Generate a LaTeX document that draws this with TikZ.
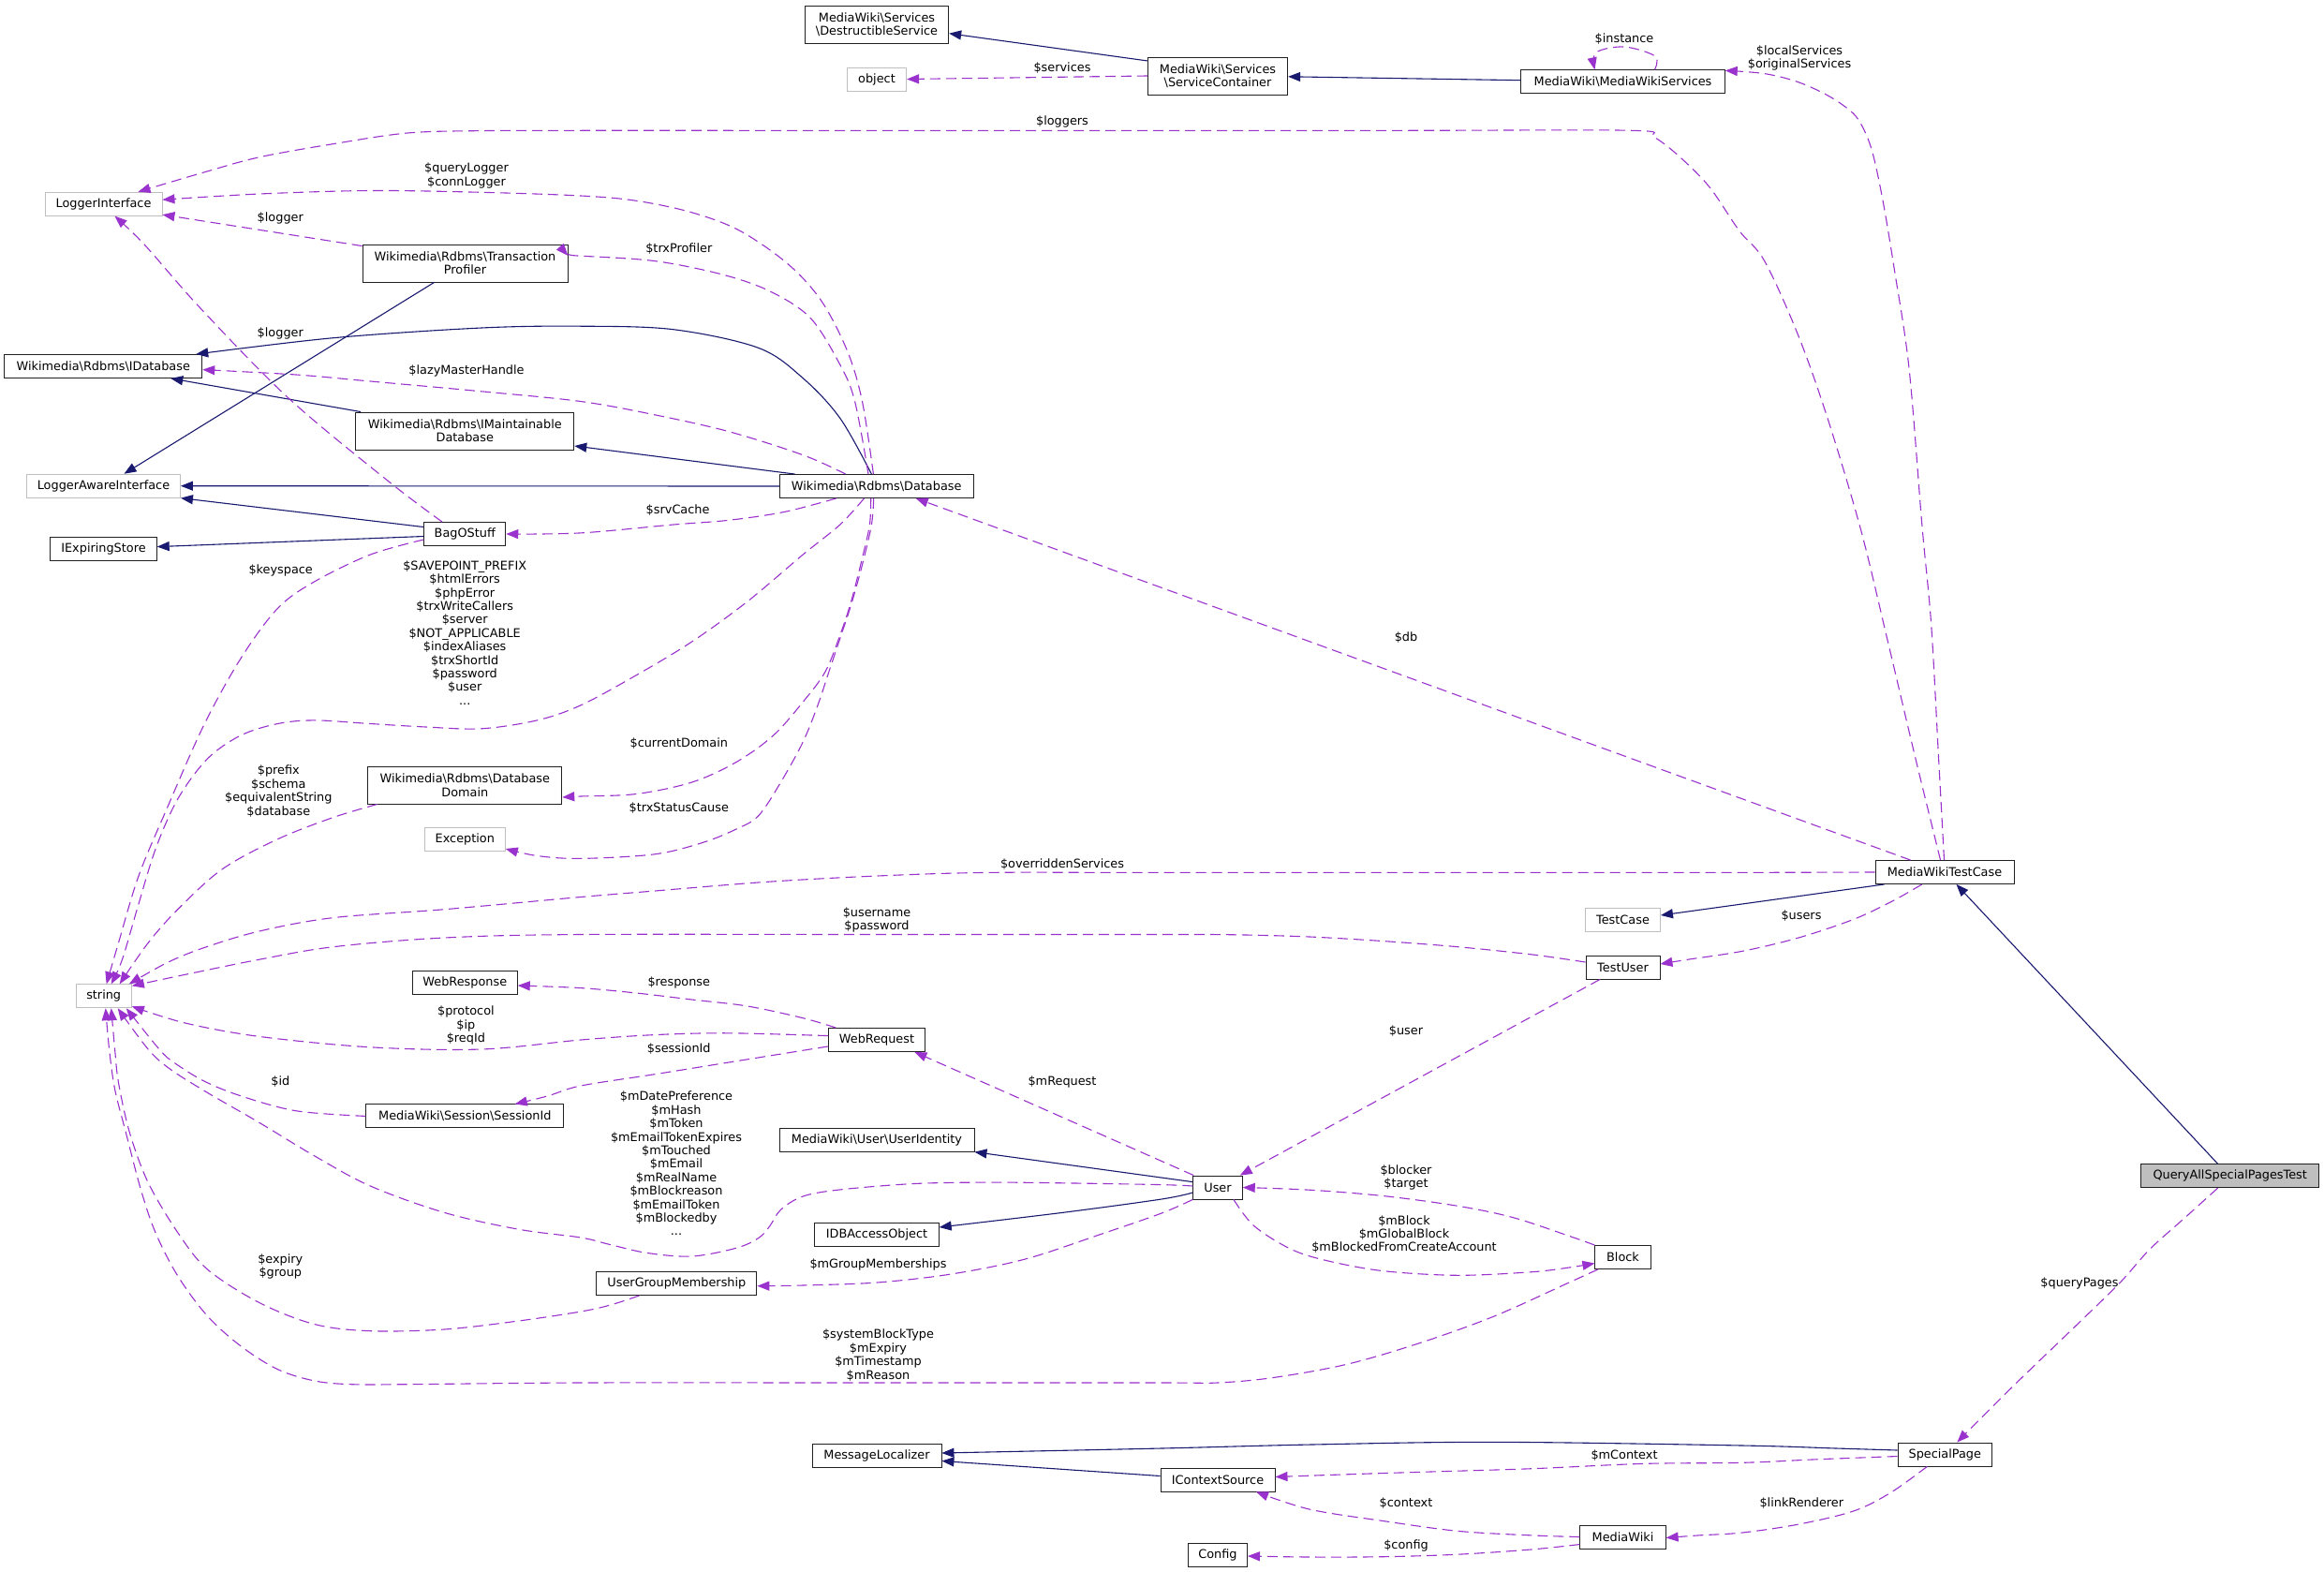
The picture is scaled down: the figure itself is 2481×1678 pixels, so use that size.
\documentclass[tikz,border=0pt]{standalone}
\usepackage{fontspec}
\setmainfont{DejaVu Sans}
\usetikzlibrary{arrows.meta}
\definecolor{usecol}{HTML}{9A32CD}
\definecolor{inhcol}{HTML}{191970}
\definecolor{extgrey}{HTML}{BFBFBF}
\definecolor{boxcol}{HTML}{202020}
\newcommand\dxfont{\fontsize{12.85}{14.4}\selectfont}
\newcommand\bsl{\textbackslash}
\begin{document}
\begin{tikzpicture}[x=1pt,y=-1pt,
  cls/.style={draw=boxcol, line width=0.9pt, fill=white, inner sep=0pt, minimum height=25pt, align=center, font=\dxfont},
  ext/.style={cls, draw=extgrey},
  lbl/.style={inner sep=0pt, align=center, font=\dxfont},
  inh/.style={draw=inhcol, line width=1.1pt, -{Triangle[length=13pt, width=10pt, fill=inhcol]}},
  use/.style={draw=usecol, line width=1.1pt, dash pattern=on 11pt off 6pt, -{Triangle[length=13pt, width=10pt, fill=usecol]}},
  sm/.style={smooth, tension=0.55}]
\useasboundingbox[fill=white] (0,0) rectangle (2481,1678);

% ---------- nodes ----------
\node[ext, minimum width=125pt] (LI) at (110.5,217.7) {LoggerInterface};
\node[cls, minimum width=219pt, minimum height=40pt] (TP) at (496.5,281) {Wikimedia\bsl Rdbms\bsl Transaction\\Profiler};
\node[cls, minimum width=211pt] (IDB) at (110.3,391) {Wikimedia\bsl Rdbms\bsl IDatabase};
\node[cls, minimum width=233pt, minimum height=40pt] (IMD) at (496.3,460) {Wikimedia\bsl Rdbms\bsl IMaintainable\\Database};
\node[ext, minimum width=164pt] (LAI) at (110.5,518.7) {LoggerAwareInterface};
\node[cls, minimum width=87pt] (BOS) at (496.3,570) {BagOStuff};
\node[cls, minimum width=113.5pt] (IES) at (110.5,585.8) {IExpiringStore};
\node[cls, minimum width=207pt, minimum height=40pt] (DD) at (496.3,838) {Wikimedia\bsl Rdbms\bsl Database\\Domain};
\node[ext, minimum width=86pt] (EXC) at (496.3,896) {Exception};
\node[cls, minimum width=112pt] (WRS) at (496.3,1048.5) {WebResponse};
\node[ext, minimum width=59.4pt] (STR) at (110.7,1063.3) {string};
\node[cls, minimum width=153.4pt, minimum height=40pt] (DS) at (936,26) {MediaWiki\bsl Services\\\bsl DestructibleService};
\node[ext, minimum width=63.3pt] (OBJ) at (936,84.5) {object};
\node[cls, minimum width=207pt] (DB) at (935.7,519) {Wikimedia\bsl Rdbms\bsl Database};
\node[cls, minimum width=149.4pt, minimum height=40pt] (SC) at (1300,81) {MediaWiki\bsl Services\\\bsl ServiceContainer};
\node[cls, minimum width=217.5pt] (MWS) at (1732.5,87.3) {MediaWiki\bsl MediaWikiServices};
\node[cls, minimum width=148pt] (MWTC) at (2076,931) {MediaWikiTestCase};
\node[ext, minimum width=80pt] (TC) at (1732.5,981.7) {TestCase};
\node[cls, minimum width=79pt] (TU) at (1732.5,1032.5) {TestUser};
\node[cls, minimum width=103pt] (WRQ) at (936,1110) {WebRequest};
\node[cls, minimum width=211pt] (SID) at (496.3,1191.4) {MediaWiki\bsl Session\bsl SessionId};
\node[cls, minimum width=208pt] (UID) at (936,1216.7) {MediaWiki\bsl User\bsl UserIdentity};
\node[cls, minimum width=132.5pt] (IDBA) at (936,1318) {IDBAccessObject};
\node[cls, minimum width=171pt] (UGM) at (722.4,1370) {UserGroupMembership};
\node[cls, minimum width=138pt] (ML) at (936,1554) {MessageLocalizer};
\node[cls, minimum width=52.6pt] (USR) at (1300,1267.5) {User};
\node[cls, minimum width=59.3pt] (BLK) at (1732.5,1342) {Block};
\node[cls, minimum width=122pt] (ICS) at (1300,1579.5) {IContextSource};
\node[cls, minimum width=91.3pt] (MW) at (1732.5,1640.5) {MediaWiki};
\node[cls, minimum width=63pt] (CFG) at (1300,1659.5) {Config};
\node[cls, fill=extgrey, minimum width=190pt] (QAS) at (2380.7,1255.2) {QueryAllSpecialPagesTest};
\node[cls, minimum width=100.5pt] (SP) at (2076.3,1552.5) {SpecialPage};

% ---------- inheritance (solid) ----------
\draw[inh] ([yshift=-4.4pt]SC.north west) -- ([yshift=-9.7pt]DS.east);
\draw[inh] ([yshift=1.6pt]MWS.west) -- ([yshift=-0.8pt]SC.east);
\draw[inh] ([xshift=-33pt]TP.south) -- ([xshift=22pt]LAI.north);
\draw[inh] plot[sm] coordinates {([xshift=-5.3pt]DB.north) (896.8,446.4) (857,403.5) (809.8,371.4) (718.9,351.7) (620,348.2) (514,350) (355.9,360.7) ([xshift=-7pt]IDB.north east)};
\draw[inh] ([xshift=5.7pt]IMD.north west) -- ([xshift=-34pt]IDB.south east);
\draw[inh] ([xshift=16.8pt]DB.north west) -- ([yshift=-16pt]IMD.east);
\draw[inh] (DB.west) -- (LAI.east);
\draw[inh] ([yshift=-5.5pt]BOS.north west) -- (LAI.south east);
\draw[inh] ([yshift=-2.5pt]BOS.west) -- ([yshift=2.2pt]IES.east);
\draw[inh] ([xshift=10pt]MWTC.south west) -- ([yshift=4.7pt]TC.east);
\draw[inh] ([xshift=82.3pt]QAS.north west) -- ([xshift=12.5pt]MWTC.south);
\draw[inh] ([yshift=5.9pt]USR.west) -- (UID.south east);
\draw[inh] plot[sm] coordinates {([yshift=-5.5pt]USR.west) (1240,1280) (1134,1294.4) ([yshift=8pt]IDBA.east)};
\draw[inh] plot[sm] coordinates {([yshift=4.5pt]SP.west) (1960,1546) (1860,1543) (1596,1539.3) (1400,1542) (1240,1546) ([yshift=3pt]ML.east)};
\draw[inh] ([yshift=4pt]ICS.west) -- ([yshift=-5.5pt]ML.east);

% ---------- usage (dashed) ----------
\draw[use] (SC.west) -- (OBJ.east);
\node[lbl] (l1) at (1134,73) {\$services};

\draw[use] plot[sm] coordinates {([xshift=34pt]MWS.north) (1767,60) (1734,50) (1704,56) ([xshift=-30pt]MWS.north)};
\node[lbl] (l2) at (1734,41.8) {\$instance};

\draw[use] plot[sm] coordinates {([xshift=-0.5pt]MWTC.north) (2069.6,810) (2061.7,667) (2051.8,560) (2038,393) (2022,285.7) (2010,214) (1998.4,160.7) (1986.5,132) (1974.7,117.8) (1951,101.8) (1919.3,87.5) (1883.7,78.6) ([yshift=-1pt]MWS.north east)};
\node[lbl] (l3) at (1921,62) {\$localServices\\\$originalServices};

\draw[use] plot[sm] coordinates {([xshift=-4.5pt]MWTC.north) (2045,810) (2015.4,685) (1986.5,565.4) (1951,446.4) (1919.3,357) (1883.7,278.6) (1856.8,246.4) (1825.2,200) (1793.6,167.8) (1765.9,146.4) (1742,139.3) (1500,139.3) (1134,139.3) (800,139.3) (620,139.3) (514,139.6) (435,142) (355.9,153.6) (276.8,167.8) (217.5,184) ([xshift=37pt]LI.north)};
\node[lbl] (l4) at (1134,130.3) {\$loggers};

\draw[use] plot[sm] coordinates {([xshift=-3.3pt]DB.north) (920.5,428.5) (904.7,375) (877,321.4) (841.4,282) (790,246.4) (738.6,226.8) (679.3,214.3) (620,209) (514,205.3) (395.4,203.5) (276.8,207) ([yshift=4.5pt]LI.east)};
\node[lbl] (l5) at (498,187.5) {\$queryLogger\\\$connLogger};

\draw[use] ([yshift=-2pt]TP.north west) -- ([yshift=1.5pt]LI.south east);
\node[lbl] (l6) at (299.3,232.8) {\$logger};

\draw[use] plot[sm] coordinates {([xshift=19.7pt]BOS.north west) (415,514) (308,425) (213.5,328.5) (155,262) ([xshift=12pt]LI.south)};
\node[lbl] (l7) at (299.3,356.4) {\$logger};

\draw[use] plot[sm] coordinates {([xshift=-8.7pt]DB.north) (912.6,428.5) (896.8,389.3) (865,339.3) (821.6,310.7) (770.3,292.8) (699,278.6) (620,273.2) ([yshift=8pt]TP.east)};
\node[lbl] (l8) at (724.8,265.3) {\$trxProfiler};

\draw[use] plot[sm] coordinates {([xshift=-33pt]DB.north) (857.2,485.7) (778.2,460.7) (699,442.8) (620,428.5) (514,417.8) (395.4,407) (316.3,400) ([yshift=-3.6pt]IDB.east)};
\node[lbl] (l9) at (498,396.4) {\$lazyMasterHandle};

\draw[use] plot[sm] coordinates {([xshift=-43pt]DB.south) (837.5,546.4) (778,555.3) (718.9,560) (620,568.9) (BOS.east)};
\node[lbl] (l10) at (723.6,544.6) {\$srvCache};

\draw[use] plot[sm] coordinates {([xshift=-13.2pt]DB.south) (896.8,560) (857.2,592) (798,642) (738.6,685) (679.3,720.7) (620,752.8) (573.3,768.9) (514,777.8) (454.7,776) (395.4,772.5) (336,768.9) (296.5,772.5) (257,785) (221.4,810) (189.8,852.8) (166,906.4) (146.3,970.7) (130.5,1024.2) ([xshift=8pt]STR.north)};
\node[lbl] (l11) at (496.2,675.5) {\$SAVEPOINT\_PREFIX\\\$htmlErrors\\\$phpError\\\$trxWriteCallers\\\$server\\\$NOT\_APPLICABLE\\\$indexAliases\\\$trxShortId\\\$password\\\$user\\...};

\draw[use] plot[sm] coordinates {([xshift=-6pt]DB.south) (928.4,560) (920.5,595.7) (908.6,642) (896.8,677.9) (881,717) (857.2,749.3) (825.6,785) (786,813.5) (738.6,835) (679.3,847.5) (620,850) ([yshift=-13pt]DD.east)};
\node[lbl] (l12) at (724.8,794) {\$currentDomain};

\draw[use] plot[sm] coordinates {([xshift=-3pt]DB.south) (930.4,560) (920.5,602.9) (908.6,645.7) (896.8,681.4) (884.9,717) (873,752.8) (857.2,792) (833.5,835) (809.8,870.7) (786,885) (750.5,899.3) (699,911.8) (620,916.4) (573.3,913.5) ([yshift=-10pt]EXC.east)};
\node[lbl] (l13) at (724.8,862.8) {\$trxStatusCause};

\draw[use] ([xshift=38pt]MWTC.north west) -- ([xshift=42pt]DB.south);
\node[lbl] (l14) at (1501,680.3) {\$db};

\draw[use] plot[sm] coordinates {(MWTC.west) (1800,931.4) (1240,931.4) (1055,931.4) (936.3,935) (817.7,941.4) (699,951) (620,957.5) (474.5,970.7) (355.9,979.6) (276.8,994) (217.5,1011.7) (178,1027.8) ([xshift=-3pt]STR.north east)};
\node[lbl] (l15) at (1134,922.5) {\$overriddenServices};

\draw[use] plot[sm] coordinates {([yshift=5.5pt]TU.west) (1635.4,1018.9) (1556.3,1010.7) (1477.2,1004.6) (1398.2,1000) (1319,997.8) (1240,997.5) (936,997.5) (620,997.5) (474.5,1001) (355.9,1010.7) (276.8,1024.2) (197.7,1040.3) ([yshift=-2pt]STR.north east)};
\node[lbl] (l16) at (936,981.7) {\$username\\\$password};

\draw[use] plot[sm] coordinates {([xshift=-24.2pt]MWTC.south) (2020,962) (1978.6,981.4) (1920,1001) (1860,1015.3) (1800,1024.5) ([yshift=3.5pt]TU.east)};
\node[lbl] (l17) at (1923,977.8) {\$users};

\draw[use] ([xshift=15.5pt]TU.south west) -- ([xshift=-3pt]USR.north east);
\node[lbl] (l18) at (1501,1100.3) {\$user};

\draw[use] plot[sm] coordinates {([xshift=8.3pt]WRQ.north west) (857.2,1086.7) (798,1074) (738.6,1067) (679.3,1060) (620,1054.6) ([yshift=-3.5pt]WRS.east)};
\node[lbl] (l19) at (724.8,1049.3) {\$response};

\draw[use] plot[sm] coordinates {([yshift=4.4pt]WRQ.west) (778,1102.8) (699,1104.6) (620,1110) (514,1120) (395.4,1117.8) (276.8,1106.4) (197.7,1092) ([yshift=2pt]STR.south east)};
\node[lbl] (l20) at (497.4,1094.6) {\$protocol\\\$ip\\\$reqId};

\draw[use] plot[sm] coordinates {([yshift=-7pt]WRQ.west) (865,1120) (778,1134) (699,1146.7) (620,1159) (585,1169.8) ([xshift=53.5pt]SID.north)};
\node[lbl] (l21) at (724.8,1120) {\$sessionId};

\draw[use] plot[sm] coordinates {(SID.west) (316.3,1185.8) (257,1169.8) (217.5,1153.8) (185.8,1134.2) (170,1120) ([xshift=-6pt]STR.south east)};
\node[lbl] (l22) at (299.3,1154.5) {\$id};

\draw[use] plot[sm] coordinates {([yshift=1.5pt]USR.west) (1240,1264.6) (1134,1262.8) (1055,1262.1) (975.9,1263.5) (896.8,1269.9) (857.2,1277) (833.5,1291.3) (821.6,1309) (809.8,1321.5) (786,1332.2) (738.6,1341) (691.2,1337.5) (651.6,1328.6) (620,1321) (553.6,1312.2) (474.5,1294.4) (395.4,1266) (336,1234) (276.8,1198.3) (221.4,1166.3) (181.9,1141.4) (158.2,1120) ([xshift=15pt]STR.south)};
\node[lbl] (l23) at (722,1242) {\$mDatePreference\\\$mHash\\\$mToken\\\$mEmailTokenExpires\\\$mTouched\\\$mEmail\\\$mRealName\\\$mBlockreason\\\$mEmailToken\\\$mBlockedby\\...};

\draw[use] ([xshift=1pt]USR.north west) -- ([xshift=-11.6pt]WRQ.south east);
\node[lbl] (l24) at (1134,1154.5) {\$mRequest};

\draw[use] plot[sm] coordinates {(USR.south west) (1240,1295) (1173.6,1318) (1094.5,1344) (1015.4,1360) (936.3,1369) (857.2,1372) ([yshift=-2.7pt]UGM.east)};
\node[lbl] (l25) at (937.5,1349.6) {\$mGroupMemberships};

\draw[use] plot[sm] coordinates {([xshift=46pt]UGM.south west) (651.6,1393) (620,1400) (553.6,1410) (474.5,1419) (395.4,1420.7) (336,1413.6) (276.8,1390.5) (221.4,1354.9) (189.8,1315.7) (158.2,1262.4) (138.4,1209) (126.5,1155.6) (122.6,1120) ([xshift=8pt]STR.south)};
\node[lbl] (l26) at (299.3,1352) {\$expiry\\\$group};

\draw[use] plot[sm] coordinates {([xshift=3.6pt]BLK.south west) (1675,1369) (1595.8,1404.7) (1516.8,1433.2) (1437.7,1456.3) (1358.6,1470.6) (1299.3,1476) (1240,1476) (936,1476) (620,1476) (434.9,1477.7) (375.6,1477.7) (336,1474) (296.5,1461.7) (257,1436.8) (221.4,1404.7) (189.8,1362) (166,1315.7) (150.3,1269.5) (134.4,1209) (122.6,1162.7) (116.6,1120) ([xshift=2pt]STR.south)};
\node[lbl] (l27) at (937.5,1446.5) {\$systemBlockType\\\$mExpiry\\\$mTimestamp\\\$mReason};

\draw[use] plot[sm] coordinates {([xshift=17pt]USR.south) (1338.8,1308.6) (1378.4,1333.5) (1418,1346) (1477.2,1356.7) (1556.3,1361.3) (1635.4,1357.7) (1675,1353) ([yshift=-6.5pt]BLK.west)};
\node[lbl] (l28) at (1499,1317.5) {\$mBlock\\\$mGlobalBlock\\\$mBlockedFromCreateAccount};

\draw[use] plot[sm] coordinates {(BLK.north west) (1675,1319.3) (1615.6,1299.7) (1556.3,1287.3) (1477.2,1276.6) (1398.2,1270.2) (USR.east)};
\node[lbl] (l29) at (1501,1257) {\$blocker\\\$target};

\draw[use] plot[sm] coordinates {([xshift=82.3pt]QAS.south west) (2334.5,1298) (2295,1333.5) (2263.3,1369) (2215.8,1415.4) (2156.6,1472.3) (2117,1511.5) ([xshift=13pt]SP.north)};
\node[lbl] (l30) at (2220,1370) {\$queryPages};

\draw[use] plot[sm] coordinates {([yshift=-2pt]SP.west) (1939,1557.8) (1860,1561.3) (1754,1562.4) (1635.4,1567.7) (1516.8,1571.3) (1437.7,1573.8) ([yshift=3pt]ICS.east)};
\node[lbl] (l31) at (1734,1553.5) {\$mContext};

\draw[use] plot[sm] coordinates {([xshift=31.7pt]SP.south west) (2018.2,1593.4) (1978.6,1613) (1919.3,1627.2) (1860,1636) (1813.4,1638.9) ([yshift=-1pt]MW.east)};
\node[lbl] (l32) at (1923.3,1604.7) {\$linkRenderer};

\draw[use] plot[sm] coordinates {(MW.west) (1635.4,1638.9) (1556.3,1634.3) (1477.2,1623.6) (1398.2,1611.1) ([xshift=41pt]ICS.south)};
\node[lbl] (l33) at (1501,1604.7) {\$context};

\draw[use] plot[sm] coordinates {([yshift=-8pt]MW.west) (1635.4,1653.9) (1556.3,1659.2) (1477.2,1661.7) (1398.2,1662) ([yshift=-1.5pt]CFG.east)};
\node[lbl] (l34) at (1501,1650.3) {\$config};

\draw[use] plot[sm] coordinates {([xshift=10.5pt]DD.south west) (355.9,872.5) (296.5,895.7) (237.2,927.8) (189.8,970.7) (158.2,1006.4) ([xshift=17pt]STR.north)};
\node[lbl] (l35) at (297.3,844.5) {\$prefix\\\$schema\\\$equivalentString\\\$database};

\draw[use] plot[sm] coordinates {([yshift=-6pt]BOS.west) (395.4,592) (336,620.7) (296.5,649.3) (257,702.9) (217.5,774.3) (178,863.5) (148,935) (126.5,1006.4) ([xshift=3pt]STR.north)};
\node[lbl] (l36) at (299.7,609.3) {\$keyspace};
\end{tikzpicture}
\end{document}
